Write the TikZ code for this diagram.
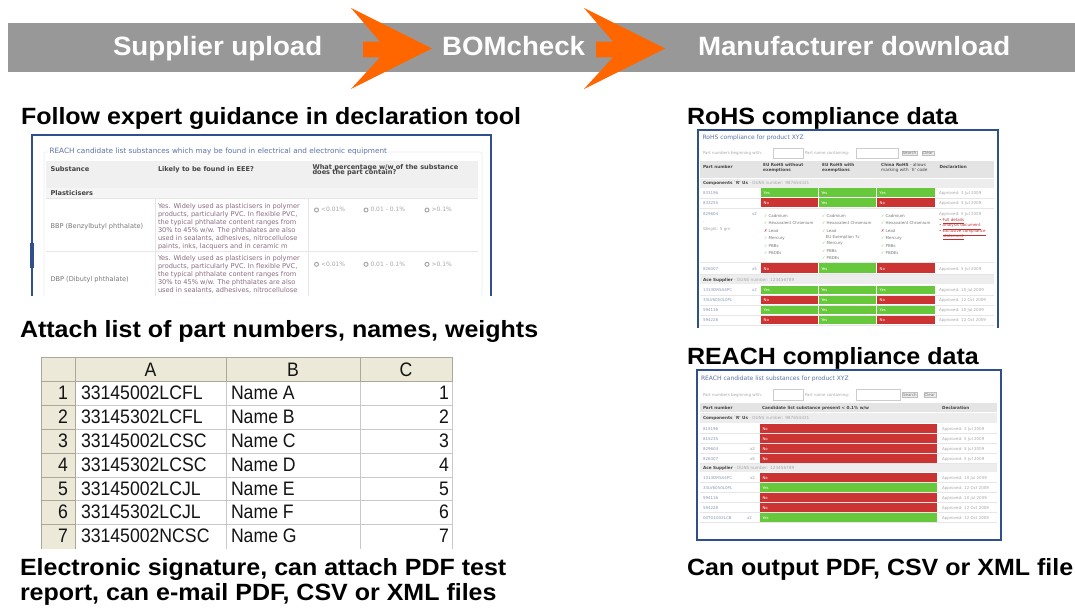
\documentclass[tikz,border=0pt]{standalone}
\usepackage{fontspec}
\usepackage{graphicx}
\setmainfont{Liberation Sans}
\newfontfamily\dvs{DejaVu Sans}
\definecolor{bannergray}{HTML}{989898}
\definecolor{arroworange}{HTML}{FF6600}
\definecolor{frameblue}{HTML}{2F4F8F}
\definecolor{okgreen}{HTML}{66C83A}
\definecolor{badred}{HTML}{CC3333}
\definecolor{xlbeige}{HTML}{ECE9D8}
\definecolor{xlgrid}{HTML}{C9C9C9}
\definecolor{xlhead}{HTML}{ACA899}
\definecolor{webtitle}{HTML}{5C72A8}
\definecolor{webdark}{HTML}{444444}
\definecolor{webgray}{HTML}{777777}
\definecolor{weblight}{HTML}{A8A8A8}
\definecolor{webpart}{HTML}{8A9AB5}
\definecolor{webpink}{HTML}{8A6A80}
\definecolor{webhead}{HTML}{E4E4E4}
\definecolor{webrow}{HTML}{EDEDED}
\definecolor{websep}{HTML}{E6E6E6}
\definecolor{weblink}{HTML}{C03030}
\newcommand\wideH[1]{\scalebox{1.064}[1]{#1}}
\newcommand\wideB[1]{\scalebox{1.045}[1]{#1}}
\newcommand\narrowX[1]{\scalebox{0.905}[1]{#1}}
\tikzset{
  txt/.style={anchor=base west, inner sep=0pt, outer sep=0pt},
  heading/.style={txt, font=\fontsize{23.5}{25}\selectfont\bfseries},
  bannertext/.style={txt, text=white, font=\fontsize{26.5}{28}\selectfont\bfseries},
  xltext/.style={txt, font=\fontsize{19.5}{20}\selectfont, text=black!92},
  lsmall/.style={txt, font=\dvs\fontsize{6.6}{8}\selectfont, text=webgray},
  lbold/.style={txt, font=\dvs\bfseries\fontsize{6.6}{5.5}\selectfont, text=webdark},
  lpink/.style={txt, font=\dvs\fontsize{6.6}{8}\selectfont, text=webpink},
  ltitle/.style={txt, font=\dvs\fontsize{7.3}{8}\selectfont, text=webtitle},
  lradio/.style={txt, font=\dvs\fontsize{6}{8}\selectfont, text=weblight},
  radio/.style={circle, draw=weblight, line width=1pt, minimum size=4pt, inner sep=0pt},
  rtitle/.style={txt, font=\dvs\fontsize{6}{6}\selectfont, text=webtitle},
  rlabel/.style={txt, font=\dvs\fontsize{4}{5}\selectfont, text=weblight},
  rbold/.style={txt, font=\dvs\bfseries\fontsize{4.2}{5}\selectfont, text=webdark},
  rhead/.style={anchor=north west, inner sep=0pt, align=left, font=\dvs\bfseries\fontsize{4.2}{5}\selectfont, text=webdark},
  rpart/.style={txt, font=\dvs\fontsize{4}{5}\selectfont, text=webpart},
  rcelltxt/.style={txt, font=\dvs\fontsize{3.8}{5}\selectfont, text=white},
  rapp/.style={txt, font=\dvs\fontsize{4}{5}\selectfont, text=weblight},
  rlist/.style={txt, font=\dvs\fontsize{4}{5}\selectfont, text=webgray},
  rlink/.style={txt, font=\dvs\fontsize{4}{5}\selectfont, text=weblink},
  inbox/.style={draw=black!20, fill=white, line width=0.4pt},
  btn/.style={draw=black!25, fill=black!7, line width=0.4pt, inner sep=0.8pt, font=\dvs\fontsize{4}{5}\selectfont, text=webgray, anchor=west},
}
\newcommand\stcell[6]{%
  \if Y#6\relax
    \fill[okgreen] (#2,#3) rectangle (#4,#5);
    \node[rcelltxt] (#1) at (#2+2.5,#5-2.6) {Yes};
  \else
    \fill[badred] (#2,#3) rectangle (#4,#5);
    \node[rcelltxt] (#1) at (#2+2.5,#5-2.6) {No};
  \fi}
\newcommand\rohsrow[8]{%
  \draw[websep] (700,#3+0.5) -- (994,#3+0.5);
  \node[rpart] (rp#1) at (703,#3-2.6) {#4};
  \stcell{ra#1}{761.2}{#2}{817.8}{#3}{#5}
  \stcell{rb#1}{818.8}{#2}{876.2}{#3}{#6}
  \stcell{rc#1}{877.2}{#2}{935.2}{#3}{#7}
  \node[rapp] (rd#1) at (939,#3-2.6) {Approved: #8};}
\newcommand\reachrow[6]{%
  \draw[websep] (700,#3+0.5) -- (997,#3+0.5);
  \node[rpart] (qp#1) at (703,#3-2.6) {#4};
  \stcell{qc#1}{760}{#2}{937.3}{#3}{#5}
  \node[rapp] (qd#1) at (942,#3-2.6) {Approved: #6};}
\begin{document}
\begin{tikzpicture}[x=1pt,y=-1pt]
\useasboundingbox (0,0) rectangle (1075,609);
\fill[white] (0,0) rectangle (1075,609);
% ---------------- banner
\fill[bannergray] (8,23) rectangle (1075,72);
\fill[arroworange] (351,8) -- (432,48.5) -- (351,89) -- (380,57.3) -- (363,57.3) -- (363,41.7) -- (380,41.7) -- cycle;
\fill[arroworange] (584,8) -- (665,48.5) -- (584,89) -- (613,57.3) -- (596,57.3) -- (596,41.7) -- (613,41.7) -- cycle;
\node[bannertext] (sup) at (113,55.7) {\wideB{Supplier upload}};
\node[bannertext] (bom) at (442,55.7) {\wideB{BOMcheck}};
\node[bannertext] (man) at (698,55.7) {\wideB{Manufacturer download}};
% ---------------- headings
\node[heading] (h1) at (21,125) {\wideH{Follow expert guidance in declaration tool}};
\node[heading] (h2) at (20,337) {\wideH{Attach list of part numbers, names, weights}};
\node[heading] (h3a) at (20,575) {\wideH{Electronic signature, can attach PDF test}};
\node[heading] (h3b) at (20,600) {\wideH{report, can e-mail PDF, CSV or XML files}};
\node[heading] (h4) at (687,125) {\wideH{RoHS compliance data}};
\node[heading] (h5) at (687,364) {\wideH{REACH compliance data}};
\node[heading] (h6) at (687,575) {\wideH{Can output PDF, CSV or XML file}};
% ---------------- spreadsheet
\fill[xlbeige] (41,357) rectangle (452,381.5);
\fill[xlbeige] (41,381.5) rectangle (75,549);
\foreach \y in {405.3,429.1,452.9,476.7,500.5,524.3} {
  \draw[xlgrid] (75,\y) -- (452,\y);
  \draw[xlhead] (41,\y) -- (75,\y);
}
\draw[xlgrid] (226,381.5) -- (226,549);
\draw[xlgrid] (360,381.5) -- (360,549);
\draw[xlgrid] (452,381.5) -- (452,549);
\draw[xlhead] (41,381.5) -- (452,381.5);
\draw[xlhead] (41,357) -- (452,357);
\draw[xlhead] (41,357) -- (41,549);
\draw[xlhead] (75,357) -- (75,549);
\draw[xlhead] (226,357) -- (226,381.5);
\draw[xlhead] (360,357) -- (360,381.5);
\draw[xlhead] (452,357) -- (452,381.5);
\node[xltext, anchor=base] (colA) at (150.5,376.5) {\narrowX{A}};
\node[xltext, anchor=base] (colB) at (293,376.5) {\narrowX{B}};
\node[xltext, anchor=base] (colC) at (406,376.5) {\narrowX{C}};
\foreach \i/\pn/\nm in {1/33145002LCFL/Name A,2/33145302LCFL/Name B,3/33145002LCSC/Name C,4/33145302LCSC/Name D,5/33145002LCJL/Name E,6/33145302LCJL/Name F,7/33145002NCSC/Name G} {
  \pgfmathsetmacro\yb{381.5+\i*23.8-5.5}
  \node[xltext, anchor=base] (rn\i) at (63,\yb) {\narrowX{\i}};
  \node[xltext] (pa\i) at (81,\yb) {\narrowX{\pn}};
  \node[xltext] (nb\i) at (231,\yb) {\narrowX{\nm}};
  \node[xltext, anchor=base east] (wc\i) at (449,\yb) {\narrowX{\i}};
}
% ---------------- left web screenshot
\begin{scope}
  \clip (27,130) rectangle (497,296);
  \fill[white] (32,135) rectangle (491,300);
  \draw[webrow, line width=0.6pt, rounded corners=2pt] (44,152) rectangle (482,320);
  \node[ltitle, fill=white, inner xsep=1.5pt] (lT) at (48,154) {REACH candidate list substances which may be found in electrical and electronic equipment};
  \fill[black!6] (46,160.7) rectangle (478,188.3);
  \fill[black!4] (46,188.3) rectangle (478,198.3);
  \node[lbold] (lh1) at (50.5,171.5) {Substance};
  \node[lbold] (lh2) at (158,171.5) {Likely to be found in EEE?};
  \node[lbold] (lh3a) at (312.5,169.3) {What percentage w/w of the substance};
  \node[lbold] (lh3b) at (312.5,174.6) {does the part contain?};
  \node[lbold] (lpl) at (50.5,195.5) {Plasticisers};
  \draw[websep] (46,198.3) -- (478,198.3);
  \draw[websep] (46,251.7) -- (478,251.7);
  \draw[websep] (155,198.3) -- (155,300);
  \draw[websep] (308,198.3) -- (308,300);
  \node[lsmall] (lbbp) at (50.5,228.5) {BBP (Benzylbutyl phthalate)};
  \node[lsmall] (ldbp) at (50.5,281.5) {DBP (Dibutyl phthalate)};
  \foreach \k/\yy/\tt in {1/208.7/{Yes. Widely used as plasticisers in polymer},
      2/216.7/{products, particularly PVC. In flexible PVC,},
      3/224.7/{the typical phthalate content ranges from},
      4/232.7/{30\% to 45\% w/w. The phthalates are also},
      5/240.7/{used in sealants, adhesives, nitrocellulose},
      6/248.7/{paints, inks, lacquers and in ceramic m}} {
    \node[lpink] (la\k) at (158,\yy) {\tt};
  }
  \foreach \k/\yy/\tt in {1/260.3/{Yes. Widely used as plasticisers in polymer},
      2/268.3/{products, particularly PVC. In flexible PVC,},
      3/276.3/{the typical phthalate content ranges from},
      4/284.3/{30\% to 45\% w/w. The phthalates are also},
      5/292.3/{used in sealants, adhesives, nitrocellulose}} {
    \node[lpink] (lb\k) at (158,\yy) {\tt};
  }
  \foreach \r/\cy in {1/210,2/264.3} {
    \node[radio] (rA\r) at (316.5,\cy) {};
    \node[lradio] (tA\r) at (321,\cy+2) {<0.01\%};
    \node[radio] (rB\r) at (366,\cy) {};
    \node[lradio] (tB\r) at (370.5,\cy+2) {0.01 - 0.1\%};
    \node[radio] (rC\r) at (427,\cy) {};
    \node[lradio] (tC\r) at (431.5,\cy+2) {>0.1\%};
  }
\end{scope}
\draw[frameblue, line width=1.5pt] (32,296) -- (32,135) -- (491,135) -- (491,296);
\fill[frameblue] (29.5,243) rectangle (34,268);
% ---------------- RoHS screenshot
\begin{scope}
  \clip (695,127) rectangle (1003,327.5);
  \fill[white] (698,130) rectangle (998,330);
  \node[rtitle] (rohsT) at (702.5,140) {RoHS compliance for product XYZ};
  \node[rlabel] (rohsL1) at (703,155) {Part numbers beginning with:};
  \draw[inbox] (773,148) rectangle (803,158.5);
  \node[rlabel] (rohsL2) at (805,155) {Part name containing:};
  \draw[inbox] (856,148) rectangle (898,158.5);
  \node[btn] (rohsS) at (901.5,153.3) {Search};
  \node[btn] (rohsC) at (921.5,153.3) {Clear};
  \fill[webhead] (700,161) rectangle (994,178.3);
  \node[rbold] (rohsH1) at (703,168.5) {Part number};
  \node[rhead] (rohsH2) at (763,163.5) {EU RoHS without\\exemptions};
  \node[rhead] (rohsH3) at (822,163.5) {EU RoHS with\\exemptions};
  \node[rhead, font=\dvs\fontsize{4.2}{5}\selectfont] (rohsH4) at (881,163.5) {\textbf{China RoHS} - allows\\marking with `E' code};
  \node[rbold] (rohsH5) at (939.5,168.5) {Declaration};
  \fill[webrow] (700,179) rectangle (994,187.7);
  \node[rbold] (rohsG1) at (703,185) {Components `R' Us \textcolor{weblight}{\mdseries - DUNS number: 987654321}};
  \rohsrow{1}{188.3}{197.3}{833196}{Y}{Y}{Y}{3 Jul 2009}
  \rohsrow{2}{198.3}{207.3}{833255}{N}{Y}{N}{5 Jul 2009}
  % tall row 829604
  \node[rpart] (rp3) at (703,215.8) {829604};
  \node[rpart, anchor=base east] (rq3) at (757,215.8) {x2};
  \node[rpart] (rp3b) at (703,223.2) {-};
  \node[rlabel] (rp3c) at (703,230.5) {Weight: 5 gm};
  \foreach \k/\yy/\mk/\nm in {1/217.2/\textcolor{okgreen}{✓}/Cadmium,2/224.8/\textcolor{okgreen}{✓}/Hexavalent Chromium,3/232.5/\textcolor{badred}{✗}/Lead,4/239.8/\textcolor{okgreen}{✓}/Mercury,5/247.2/\textcolor{okgreen}{✓}/PBBs,6/254.8/\textcolor{okgreen}{✓}/PBDEs} {
    \node[rlist] (la3\k) at (764,\yy) {\mk\ \nm};
    \node[rlist] (lc3\k) at (881,\yy) {\mk\ \nm};
  }
  \foreach \k/\yy/\tt in {1/217.2/{\textcolor{okgreen}{✓} Cadmium},2/224.8/{\textcolor{okgreen}{✓} Hexavalent Chromium},3/232.5/{\textcolor{okgreen}{✓} Lead},4/238.2/{\ \ \ EU Exemption 7c},5/244.8/{\textcolor{okgreen}{✓} Mercury},6/252.2/{\textcolor{okgreen}{✓} PBBs},7/259.2/{\textcolor{okgreen}{✓} PBDEs}} {
    \node[rlist] (lb3\k) at (822,\yy) {\tt};
  }
  \node[rapp] (rd3) at (939,215.8) {Approved: 5 Jul 2009};
  \node[rlink] (rk1) at (939,221.5) {\textbullet\ \underline{Full details}};
  \node[rlink] (rk2) at (939,226.5) {\textbullet\ \underline{Analysis document}};
  \node[rlink] (rk3) at (939,232.5) {\textbullet\ \underline{Exclusive compliance}};
  \node[rlink] (rk4) at (943,237.5) {\underline{statement}};
  \draw[websep] (700,262.5) -- (994,262.5);
  \rohsrow{4}{263.3}{273.3}{826007}{N}{Y}{N}{5 Jul 2009}
  \node[rpart, anchor=base east] (rq4) at (757,270.7) {x5};
  \fill[webrow] (700,275) rectangle (994,284.3);
  \node[rbold] (rohsG2) at (703,281.5) {Ace Supplier \textcolor{weblight}{\mdseries - DUNS number: 123456789}};
  \rohsrow{5}{285.7}{294.3}{1313DRSA4PC}{Y}{Y}{Y}{10 Jul 2009}
  \node[rpart, anchor=base east] (rq5) at (757,291.7) {x2};
  \rohsrow{6}{295.7}{304.3}{33LV6050L0PL}{N}{Y}{N}{12 Oct 2009}
  \rohsrow{7}{305.7}{314.3}{594116}{Y}{Y}{Y}{10 Jul 2009}
  \rohsrow{8}{315.7}{324.3}{594228}{N}{Y}{N}{12 Oct 2009}
\end{scope}
\draw[frameblue, line width=1.2pt] (698,327.5) -- (698,130) -- (998,130) -- (998,327.5);
% ---------------- REACH screenshot
\fill[white] (697,370) rectangle (1001,540);
\node[rtitle] (reT) at (701,380.5) {REACH candidate list substances for product XYZ};
\node[rlabel] (reL1) at (703,396) {Part numbers beginning with:};
\draw[inbox] (773,389.5) rectangle (803,400);
\node[rlabel] (reL2) at (805,396) {Part name containing:};
\draw[inbox] (856,389.5) rectangle (900,400);
\node[btn] (reS) at (902,394.7) {Search};
\node[btn] (reC) at (923.5,394.7) {Clear};
\fill[webhead] (700,403.3) rectangle (997,411.7);
\node[rbold] (reH1) at (703,409.6) {Part number};
\node[rbold] (reH2) at (762,409.6) {Candidate list substance present < 0.1\% w/w};
\node[rbold] (reH3) at (942,409.6) {Declaration};
\fill[webrow] (700,412.7) rectangle (997,422.7);
\node[rbold] (reG1) at (703,419.6) {Components `R' Us \textcolor{weblight}{\mdseries - DUNS number: 987654321}};
\reachrow{1}{423.7}{432.7}{815196}{N}{3 Jul 2009}
\reachrow{2}{433.7}{442.7}{815235}{N}{5 Jul 2009}
\reachrow{3}{443.7}{452.7}{829604}{N}{5 Jul 2009}
\node[rpart, anchor=base east] (qq3) at (755,450.1) {x2};
\reachrow{4}{453.7}{462.7}{826307}{N}{5 Jul 2009}
\node[rpart, anchor=base east] (qq4) at (755,460.1) {x5};
\fill[webrow] (700,463.7) rectangle (997,471.8);
\node[rbold] (reG2) at (703,469.6) {Ace Supplier \textcolor{weblight}{\mdseries - DUNS number: 123456789}};
\reachrow{5}{472.5}{481.7}{1313DRSA4PC}{N}{10 Jul 2009}
\node[rpart, anchor=base east] (qq5) at (755,479.1) {x2};
\reachrow{6}{483.3}{491.7}{33LV6050L0PL}{Y}{12 Oct 2009}
\reachrow{7}{493.3}{501.7}{594116}{N}{10 Jul 2009}
\reachrow{8}{503.3}{511.7}{594228}{N}{12 Oct 2009}
\reachrow{9}{513.3}{521.7}{00TG1002LCB}{Y}{12 Oct 2009}
\node[rpart, anchor=base east] (qq9) at (752,519.1) {x2};
\draw[frameblue, line width=1.2pt] (697,370) rectangle (1001,540);
\end{tikzpicture}
\end{document}
